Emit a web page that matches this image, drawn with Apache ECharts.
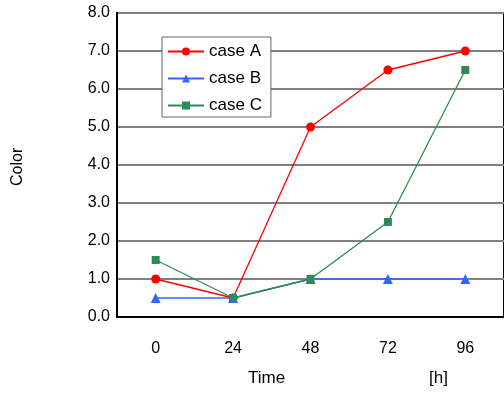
<!DOCTYPE html>
<html>
<head>
<meta charset="utf-8">
<script src="https://cdn.jsdelivr.net/npm/echarts@6/dist/echarts.min.js"></script>
<style>
  html, body { margin: 0; padding: 0; background: #fff; }
  #chart { width: 504px; height: 394px; }
</style>
</head>
<body>
<div id="chart"></div>
<script>
// 横轴时间 [h]
const hours = ["0", "24", "48", "72", "96"];
const caseA = [1.0, 0.5, 5.0, 6.5, 7.0];
const caseB = [0.5, 0.5, 1.0, 1.0, 1.0];
const caseC = [1.5, 0.5, 1.0, 2.5, 6.5];

const font = "Liberation Sans, Arial, sans-serif";

let chart = echarts.init(document.getElementById("chart"));

function lineSeries(name, data, color, symbol, size) {
  return {
    name: name,
    type: "line",
    data: data,
    symbol: symbol,
    symbolSize: size,
    lineStyle: { color: color, width: 1.3 },
    itemStyle: { color: color },
    animation: false
  };
}

let option = {
  animation: false,
  grid: {
    left: 117,
    top: 13,
    width: 388,
    height: 304,
    show: true,
    borderColor: "#000",
    borderWidth: 2
  },
  legend: {
    orient: "vertical",
    left: 162,
    top: 37,
    backgroundColor: "#fff",
    borderColor: "#666",
    borderWidth: 1,
    padding: [6, 9, 3, 5],
    itemGap: 10,
    itemWidth: 36,
    itemHeight: 10,
    textStyle: { fontFamily: font, fontSize: 17, color: "#000" },
    data: ["case A", "case B", "case C"]
  },
  xAxis: {
    type: "category",
    data: hours,
    boundaryGap: true,
    axisLine: { lineStyle: { color: "#000", width: 2 } },
    axisTick: { inside: true, length: 6, lineStyle: { color: "#000", width: 1 } },
    axisLabel: { fontFamily: font, fontSize: 16, color: "#000", margin: 24 },
    splitLine: { show: false }
  },
  yAxis: {
    type: "value",
    min: 0,
    max: 8,
    interval: 1,
    axisLine: { show: true, lineStyle: { color: "#000", width: 2 } },
    axisTick: { show: false },
    axisLabel: {
      fontFamily: font,
      fontSize: 16,
      color: "#000",
      margin: 7,
      formatter: v => v.toFixed(1)
    },
    splitLine: { lineStyle: { color: "#808080", width: 2 } }
  },
  graphic: [
    { type: "text", left: 248, top: 370, style: { text: "Time", font: "17px " + font, fill: "#000" } },
    { type: "text", left: 429, top: 370, style: { text: "[h]", font: "17px " + font, fill: "#000" } },
    {
      type: "text", x: 10, y: 186, rotation: Math.PI / 2,
      style: { text: "Color", font: "16px " + font, fill: "#000" }
    }
  ],
  series: [
    lineSeries("case A", caseA, "#ff0000", "circle", 9),
    lineSeries("case B", caseB, "#3366ff", "triangle", 10),
    lineSeries("case C", caseC, "#2e8b57", "rect", 8)
  ]
};
chart.setOption(option);
</script>
</body>
</html>
